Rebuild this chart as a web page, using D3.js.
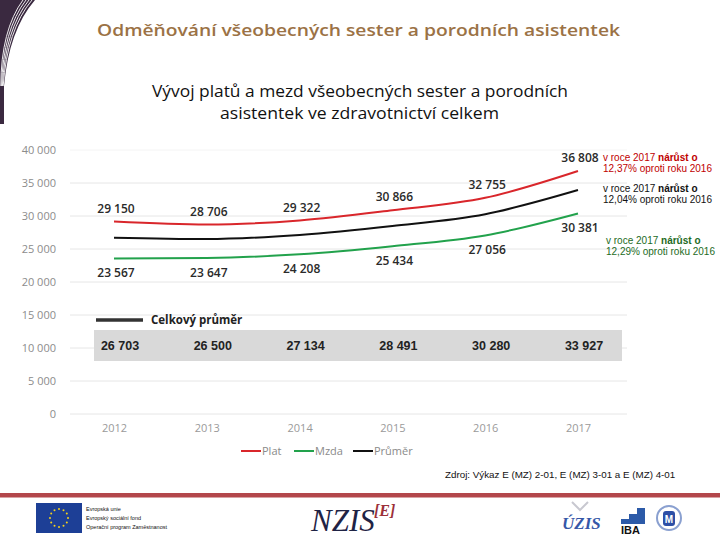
<!DOCTYPE html>
<html><head><meta charset="utf-8">
<script src="https://cdn.jsdelivr.net/npm/d3@7"></script>
<style>body{margin:0;background:#fff}svg{display:block}</style>
</head><body>
<script>
const years = [2012, 2013, 2014, 2015, 2016, 2017];
const plat = [29150, 28706, 29322, 30866, 32755, 36808];
const mzda = [23567, 23647, 24208, 25434, 27056, 30381];
const prumer = [26703, 26500, 27134, 28491, 30280, 33927];
const yTicks = [0, 5000, 10000, 15000, 20000, 25000, 30000, 35000, 40000];
const seriesNames = ["Plat", "Mzda", "Průměr"];
const seriesColors = ["#d9262b", "#22a24c", "#111111"];
const notes = [
  {pct: "12,37%", color: "#c00000"},
  {pct: "12,04%", color: "#111111"},
  {pct: "12,29%", color: "#1d6b24"}
];

const W = 720, H = 540;
const svg = d3.select("body").append("svg").attr("width", W).attr("height", H);
const loc = d3.formatLocale({decimal: ",", thousands: " ", grouping: [3], currency: ["", ""]});
const fmt = loc.format(",d");

// left decoration
const deco = svg.append("g");
deco.append("path").attr("d", "M0,0 L35,0 Q9,30 4,86 L4,124 L0,124 Z").attr("fill", "#3a2940");
for (let i = 1; i <= 4; i++) {
  deco.append("path").attr("d", `M${35 - 3 * i},0 Q${9 - 2 * i},30 ${Math.max(0.5, 4 - 0.8 * i)},86`)
    .attr("fill", "none").attr("stroke", "#fff").attr("stroke-width", 0.9);
}

// titles
svg.append("text").attr("x", 97).attr("y", 36)
  .attr("textLength", 523).attr("lengthAdjust", "spacingAndGlyphs")
  .attr("font-family", "'Open Sans', sans-serif").attr("font-weight", 600).attr("font-size", 17)
  .attr("fill", "#9b7245").text("Odměňování všeobecných sester a porodních asistentek");
svg.append("text").attr("x", 152).attr("y", 97)
  .attr("textLength", 416).attr("lengthAdjust", "spacingAndGlyphs")
  .attr("font-family", "'Open Sans', sans-serif").attr("font-size", 16).attr("fill", "#111")
  .text("Vývoj platů a mezd všeobecných sester a porodních");
svg.append("text").attr("x", 220).attr("y", 119)
  .attr("textLength", 279).attr("lengthAdjust", "spacingAndGlyphs")
  .attr("font-family", "'Open Sans', sans-serif").attr("font-size", 16).attr("fill", "#111")
  .text("asistentek ve zdravotnictví celkem");

// scales
const x = d3.scalePoint().domain(years).range([114, 578]);
const y = d3.scaleLinear().domain([0, 40000]).range([414, 150]);

// grid
const grid = svg.append("g");
grid.selectAll("line").data(yTicks).join("line")
  .attr("x1", 70).attr("x2", 627).attr("y1", d => y(d)).attr("y2", d => y(d))
  .attr("stroke", d => d === 40000 ? "#f4f4f4" : "#e6e6e6").attr("stroke-width", 1);

// y axis labels
const yAxis = d3.axisLeft(y).tickValues(yTicks).tickFormat(fmt).tickSize(0).tickPadding(0);
const ya = svg.append("g").attr("transform", "translate(56,0)").call(yAxis);
ya.select(".domain").remove();
ya.selectAll("text").attr("font-family", "'Open Sans', sans-serif").attr("font-size", 11)
  .attr("fill", "#8c8c8c").attr("dy", "0.35em");

// x axis labels
const xAxis = d3.axisBottom(x).tickSize(0).tickPadding(0);
const xa = svg.append("g").attr("transform", "translate(0,425)").call(xAxis);
xa.select(".domain").remove();
xa.selectAll("text").attr("font-family", "'Open Sans', sans-serif").attr("font-size", 11)
  .attr("fill", "#9a9a9a").attr("dy", "0.6em");

// lines
const line = d3.line().x((d, i) => x(years[i])).y(d => y(d)).curve(d3.curveMonotoneX);
[plat, mzda, prumer].forEach((s, k) => {
  svg.append("path").datum(s).attr("d", line).attr("fill", "none")
    .attr("stroke", seriesColors[k]).attr("stroke-width", 2);
});

// data labels
const lab = svg.append("g").attr("font-family", "'Open Sans', sans-serif").attr("font-weight", 600)
  .attr("font-size", 12).attr("fill", "#2a2a2a").attr("text-anchor", "middle");
lab.selectAll(".pl").data(plat).join("text").attr("class", "pl")
  .attr("x", (d, i) => x(years[i]) + 2).attr("y", d => y(d) - 13).attr("dy", "0.35em").text(fmt);
lab.selectAll(".mz").data(mzda).join("text").attr("class", "mz")
  .attr("x", (d, i) => x(years[i]) + 2).attr("y", d => y(d) + 14.5).attr("dy", "0.35em").text(fmt);

// annotations
const ann = svg.append("g").attr("font-family", "'Liberation Sans', Arial, sans-serif").attr("font-size", 10);
const annY = [157, 188, 240];
const annX = [603, 603, 606];
notes.forEach((n, k) => {
  const t1 = ann.append("text").attr("x", annX[k]).attr("y", annY[k] + 3.5).attr("fill", n.color);
  t1.append("tspan").text("v roce 2017 ");
  t1.append("tspan").attr("font-weight", 700).text("nárůst o");
  ann.append("text").attr("x", annX[k]).attr("y", annY[k] + 15).attr("fill", n.color)
    .text(n.pct + " oproti roku 2016");
});

// average table
svg.append("line").attr("x1", 96).attr("x2", 143).attr("y1", 320).attr("y2", 320)
  .attr("stroke", "#333").attr("stroke-width", 3.5);
svg.append("text").attr("x", 151).attr("y", 324).attr("font-family", "'Open Sans', sans-serif")
  .attr("font-weight", 700).attr("font-size", 11.5).attr("fill", "#222").text("Celkový průměr");
svg.append("rect").attr("x", 94).attr("y", 330).attr("width", 528).attr("height", 31).attr("fill", "#d9d9d9");
svg.append("g").selectAll("text").data(prumer).join("text")
  .attr("x", (d, i) => x(years[i]) + 6).attr("y", 350).attr("text-anchor", "middle")
  .attr("font-family", "'Liberation Sans', Arial, sans-serif").attr("font-weight", 700)
  .attr("font-size", 12.5).attr("fill", "#222").text(fmt);

// legend
const legX = [241, 294, 353];
const leg = svg.append("g");
seriesNames.forEach((nm, k) => {
  leg.append("line").attr("x1", legX[k]).attr("x2", legX[k] + 20).attr("y1", 451).attr("y2", 451)
    .attr("stroke", seriesColors[k]).attr("stroke-width", 2);
  leg.append("text").attr("x", legX[k] + 21).attr("y", 455).attr("font-family", "'Open Sans', sans-serif")
    .attr("font-size", 11).attr("fill", "#8a8a8a").text(nm);
});

// source
svg.append("text").attr("x", 445).attr("y", 478).attr("font-family", "'Liberation Sans', Arial, sans-serif")
  .attr("font-size", 9.8).attr("fill", "#111").text("Zdroj: Výkaz E (MZ) 2-01, E (MZ) 3-01 a E (MZ) 4-01");

// footer band
svg.append("rect").attr("x", 0).attr("y", 493).attr("width", 720).attr("height", 4.5).attr("fill", "#b3474b");

// EU flag
const eu = svg.append("g");
eu.append("rect").attr("x", 36).attr("y", 503).attr("width", 46).attr("height", 30).attr("fill", "#1d3f96");
d3.range(12).forEach(i => {
  const a = i * Math.PI / 6;
  eu.append("circle").attr("cx", 59 + 9 * Math.cos(a)).attr("cy", 518 + 9 * Math.sin(a)).attr("r", 1).attr("fill", "#f4d21a");
});
["Evropská unie", "Evropský sociální fond", "Operační program Zaměstnanost"].forEach((t, i) => {
  eu.append("text").attr("x", 86).attr("y", 511 + i * 9).attr("font-family", "'Liberation Sans', Arial, sans-serif")
    .attr("font-size", 5.5).attr("fill", "#111").text(t);
});

// NZIS logo
svg.append("text").attr("x", 311).attr("y", 531).attr("font-family", "'Liberation Serif', serif")
  .attr("font-style", "italic").attr("font-size", 31).attr("fill", "#1f2345").text("NZIS");
svg.append("text").attr("x", 374).attr("y", 516).attr("font-family", "'Liberation Serif', serif")
  .attr("font-style", "italic").attr("font-weight", 700).attr("font-size", 16).attr("fill", "#9c3038").text("[E]");

// UZIS logo
svg.append("path").attr("d", "M572,502 L580,510 L588,502").attr("fill", "none").attr("stroke", "#c8c8d0").attr("stroke-width", 2);
svg.append("text").attr("x", 562).attr("y", 529).attr("font-family", "'Liberation Serif', serif")
  .attr("font-style", "italic").attr("font-weight", 700).attr("font-size", 17).attr("fill", "#3557a8").text("ÚZIS");
// IBA logo
const iba = svg.append("g");
[[621, 519, 8, 5], [629, 514, 8, 10], [637, 508, 8, 16]].forEach(r => {
  iba.append("rect").attr("x", r[0]).attr("y", r[1]).attr("width", r[2]).attr("height", r[3]).attr("fill", "#2c5aa8");
});
iba.append("text").attr("x", 621).attr("y", 534).attr("font-family", "'Liberation Sans', Arial, sans-serif")
  .attr("font-weight", 700).attr("font-size", 11).attr("fill", "#111").text("IBA");
// MU logo
svg.append("circle").attr("cx", 669).attr("cy", 518).attr("r", 12).attr("fill", "none").attr("stroke", "#8aa0d0").attr("stroke-width", 2);
svg.append("rect").attr("x", 663).attr("y", 511).attr("width", 12).attr("height", 15).attr("rx", 3).attr("fill", "#2d4fa6");
svg.append("text").attr("x", 669).attr("y", 523).attr("text-anchor", "middle").attr("font-family", "'Liberation Sans', Arial, sans-serif")
  .attr("font-weight", 700).attr("font-size", 10).attr("fill", "#fff").text("M");
</script>
</body></html>
